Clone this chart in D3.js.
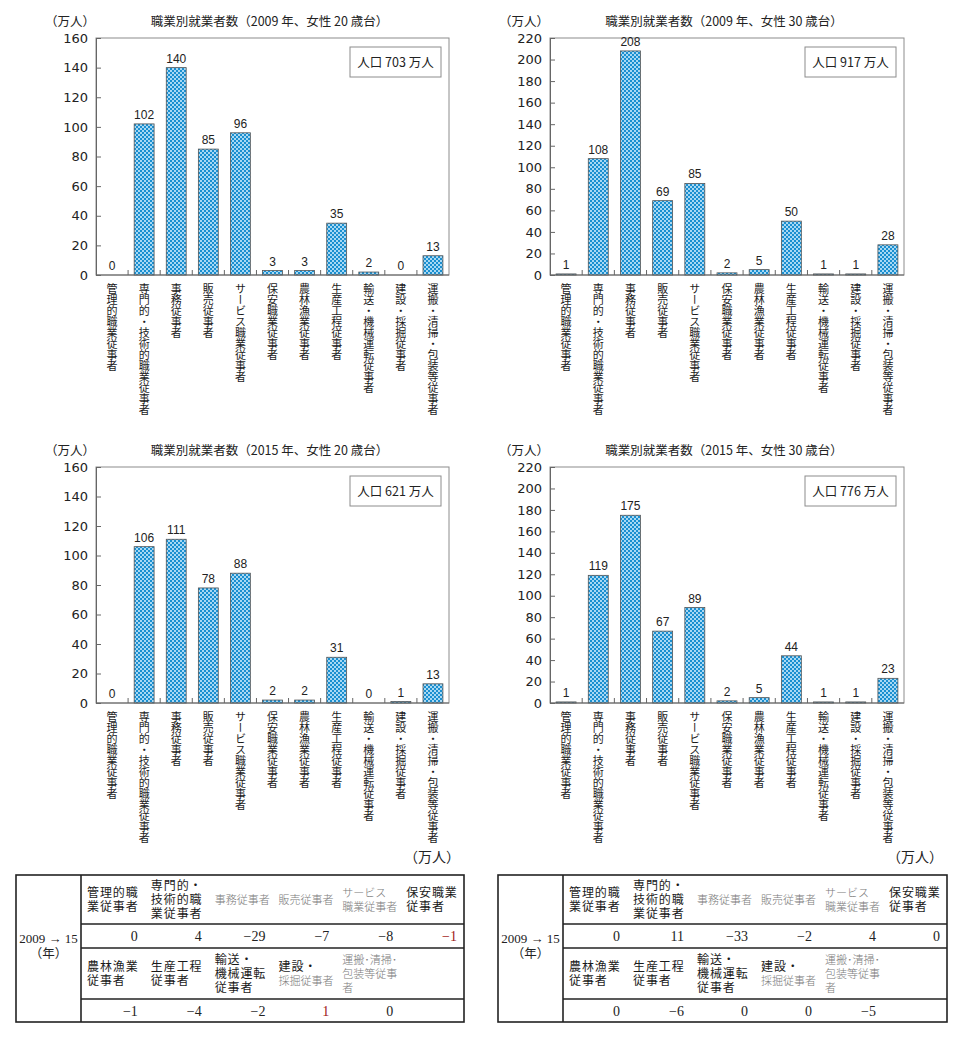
<!DOCTYPE html>
<html><head><meta charset="utf-8">
<script src="https://cdn.jsdelivr.net/npm/d3@7"></script>
<style>body{margin:0;background:#fff} svg{display:block}</style>
</head><body>
<svg id="c" width="963" height="1039"></svg>
<script>
// ---------- data ----------
const categories = ["管理的職業従事者","専門的・技術的職業従事者","事務従事者","販売従事者","サービス職業従事者","保安職業従事者","農林漁業従事者","生産工程従事者","輸送・機械運転従事者","建設・採掘従事者","運搬・清掃・包装等従事者"];
const values2009f20 = [0,102,140,85,96,3,3,35,2,0,13];
const values2009f30 = [1,108,208,69,85,2,5,50,1,1,28];
const values2015f20 = [0,106,111,78,88,2,2,31,0,1,13];
const values2015f30 = [1,119,175,67,89,2,5,44,1,1,23];
const chartTitles = ["職業別就業者数（2009 年、女性 20 歳台）","職業別就業者数（2009 年、女性 30 歳台）","職業別就業者数（2015 年、女性 20 歳台）","職業別就業者数（2015 年、女性 30 歳台）"];
const populations = [703, 917, 621, 776];
const yTicks20 = [0,20,40,60,80,100,120,140,160];
const yTicks30 = [0,20,40,60,80,100,120,140,160,180,200,220];
const unitLabel = "（万人）";

const tableHead1 = [["管理的職","業従事者"],["専門的・","技術的職","業従事者"],["事務従事者"],["販売従事者"],["サービス","職業従事者"],["保安職業","従事者"]];
const tableHead2 = [["農林漁業","従事者"],["生産工程","従事者"],["輸送・","機械運転","従事者"],["建設・","採掘従事者"],["運搬･清掃･","包装等従事","者"]];
const diff20Row1 = [0,4,-29,-7,-8,-1];
const diff20Row2 = [-1,-4,-2,1,0];
const diff30Row1 = [0,11,-33,-2,4,0];
const diff30Row2 = [0,-6,0,0,-5];
const periodLabel = ["2009 → 15","（年）"];

// ---------- drawing ----------
const svg = d3.select("#c");
const defs = svg.append("defs");
const pat = defs.append("pattern").attr("id","dots").attr("width",4).attr("height",4).attr("patternUnits","userSpaceOnUse");
pat.append("rect").attr("width",4).attr("height",4).attr("fill","#1a8fd0");
pat.append("circle").attr("cx",1).attr("cy",1).attr("r",1.0).attr("fill","#d8f1ff");
pat.append("circle").attr("cx",3).attr("cy",3).attr("r",1.0).attr("fill","#d8f1ff");

const sans = "'Noto Sans CJK JP','DejaVu Sans',sans-serif";
const panels = [
  {x0:96, x1:449, yTop:38, yZero:275, vals:values2009f20, ticks:yTicks20},
  {x0:550, x1:904, yTop:38, yZero:275, vals:values2009f30, ticks:yTicks30},
  {x0:96, x1:449, yTop:467, yZero:703, vals:values2015f20, ticks:yTicks20},
  {x0:550, x1:904, yTop:467, yZero:703, vals:values2015f30, ticks:yTicks30}
];

panels.forEach((p,i)=>{
  const g = svg.append("g");
  const pad = 0.38;
  const x = d3.scaleBand().domain(categories).range([p.x0,p.x1]).paddingInner(pad).paddingOuter(pad/2);
  const y = d3.scaleLinear().domain([0, d3.max(p.ticks)]).range([p.yZero,p.yTop]);

  // title & unit
  g.append("text").attr("x",(p.x0+p.x1)/2 - 3).attr("y",p.yTop-12).attr("text-anchor","middle")
    .attr("font-family",sans).attr("font-size",12.5).attr("fill","#222").text(chartTitles[i]);
  g.append("text").attr("x",p.x0-1).attr("y",p.yTop-12).attr("text-anchor","end")
    .attr("font-family",sans).attr("font-size",12.5).attr("fill","#222").text(unitLabel);

  // frame
  g.append("rect").attr("x",p.x0).attr("y",p.yTop).attr("width",p.x1-p.x0).attr("height",p.yZero-p.yTop)
    .attr("fill","none").attr("stroke","#8c8c8c").attr("stroke-width",1);

  // bars
  g.selectAll("rect.bar").data(p.vals).join("rect").attr("class","bar")
    .attr("x",(d,j)=>x(categories[j])).attr("width",x.bandwidth())
    .attr("y",d=>y(d)).attr("height",d=>p.yZero-y(d))
    .attr("fill","url(#dots)").attr("stroke","#555").attr("stroke-width",0.8);

  // y axis
  const yAxis = d3.axisLeft(y).tickValues(p.ticks).tickSizeInner(-5).tickSizeOuter(0).tickPadding(8);
  const ya = g.append("g").attr("transform",`translate(${p.x0},0)`).call(yAxis);
  ya.select(".domain").attr("stroke","#666");
  ya.selectAll(".tick line").attr("stroke","#666");
  ya.selectAll(".tick text").attr("font-family","'DejaVu Sans',sans-serif").attr("font-size",13).attr("fill","#222");

  // x boundary ticks
  const bounds = categories.slice(1).map(c=>x(c) - x.step()*pad/2);
  g.selectAll("line.xt").data(bounds).join("line").attr("class","xt")
    .attr("x1",d=>d).attr("x2",d=>d).attr("y1",p.yZero).attr("y2",p.yZero-5).attr("stroke","#666");
  g.append("line").attr("x1",p.x0).attr("x2",p.x1).attr("y1",p.yZero).attr("y2",p.yZero).attr("stroke","#666");

  // value labels
  g.selectAll("text.val").data(p.vals).join("text").attr("class","val")
    .attr("x",(d,j)=>x(categories[j])+x.bandwidth()/2).attr("y",d=>y(d)-5)
    .attr("text-anchor","middle").attr("font-family","'Liberation Sans',sans-serif").attr("font-size",12).attr("fill","#222")
    .text(d=>d);

  // category labels (vertical)
  g.selectAll("text.cat").data(categories).join("text").attr("class","cat")
    .attr("x",c=>x(c)+x.bandwidth()/2).attr("y",p.yZero+8)
    .style("writing-mode","vertical-rl")
    .attr("font-family",sans).attr("font-size",11).attr("fill","#1a1a1a")
    .text(c=>c);

  // population box
  g.append("rect").attr("x",p.x1-99).attr("y",p.yTop+9).attr("width",91).attr("height",30)
    .attr("fill","#fff").attr("stroke","#8c8c8c");
  g.append("text").attr("x",p.x1-53.5).attr("y",p.yTop+28.5).attr("text-anchor","middle")
    .attr("font-family",sans).attr("font-size",12.5).attr("fill","#222").text(`人口 ${populations[i]} 万人`);
});

// ---------- tables ----------
const lightCells = {"事務従事者":1,"販売従事者":1,"サービス":1,"職業従事者":1,"採掘従事者":1,"運搬･清掃･":1,"包装等従事":1,"者":1};
const fmt = v => v < 0 ? "−" + Math.abs(v) : String(v);
const rowsY = [875, 924, 948, 999, 1022];

function drawTable(x0, x1, row1, row1Vals, row2Vals, redIdx1, redIdx2){
  const g = svg.append("g");
  const leftW = 65;
  const cx = d3.scaleBand().domain(d3.range(6)).range([x0+leftW, x1]);
  const cw = cx.bandwidth();
  g.append("text").attr("x",x1-4).attr("y",862).attr("text-anchor","end")
    .attr("font-family","'Liberation Serif','Noto Sans CJK JP',serif").attr("font-size",14).attr("fill","#222").text(unitLabel);
  g.append("rect").attr("x",x0).attr("y",rowsY[0]).attr("width",x1-x0).attr("height",rowsY[4]-rowsY[0])
    .attr("fill","none").attr("stroke","#222").attr("stroke-width",1.6);
  g.append("line").attr("x1",x0+leftW).attr("x2",x0+leftW).attr("y1",rowsY[0]).attr("y2",rowsY[4]).attr("stroke","#222").attr("stroke-width",1.6);
  [1,2,3].forEach(k=>g.append("line").attr("x1",x0+leftW).attr("x2",x1).attr("y1",rowsY[k]).attr("y2",rowsY[k]).attr("stroke","#222").attr("stroke-width",1.6));
  // left label
  const lt = g.append("text").attr("text-anchor","middle")
    .attr("font-family","'Liberation Serif','Noto Sans CJK JP',serif").attr("fill","#222");
  lt.append("tspan").attr("x",x0+leftW/2).attr("y",943).attr("font-size",13).text(periodLabel[0]);
  lt.append("tspan").attr("x",x0+leftW/2).attr("y",958).attr("font-size",12.5).text(periodLabel[1]);

  function heads(list, yMid){
    list.forEach((lines,j)=>{
      const n = lines.length, lh = 14;
      const t = g.append("text").attr("font-family","'Noto Sans CJK JP',serif");
      lines.forEach((s,k)=>{
        const light = lightCells[s];
        t.append("tspan").attr("x",cx(j)+6).attr("y",yMid + (k-(n-1)/2)*lh + 4.5)
          .attr("font-size",light?11:12).attr("letter-spacing",light?0:0.9)
          .attr("font-weight",light?300:400)
          .attr("fill",light?"#7a7a7a":"#1a1a1a").text(s);
      });
    });
  }
  function vals(list, yMid, red){
    list.forEach((v,j)=>{
      g.append("text").attr("x",cx(j)+cw-7).attr("y",yMid+5).attr("text-anchor","end")
        .attr("font-family","'Liberation Serif',serif").attr("font-size",14)
        .attr("fill",red.includes(j)?"#a01818":"#222").text(fmt(v));
    });
  }
  heads(row1, (rowsY[0]+rowsY[1])/2);
  heads(tableHead2, (rowsY[2]+rowsY[3])/2);
  vals(row1Vals, (rowsY[1]+rowsY[2])/2, redIdx1);
  vals(row2Vals, (rowsY[3]+rowsY[4])/2, redIdx2);
}
drawTable(16, 464, tableHead1, diff20Row1, diff20Row2, [5], [3]);
drawTable(498, 947, tableHead1, diff30Row1, diff30Row2, [], []);
</script>
</body></html>
